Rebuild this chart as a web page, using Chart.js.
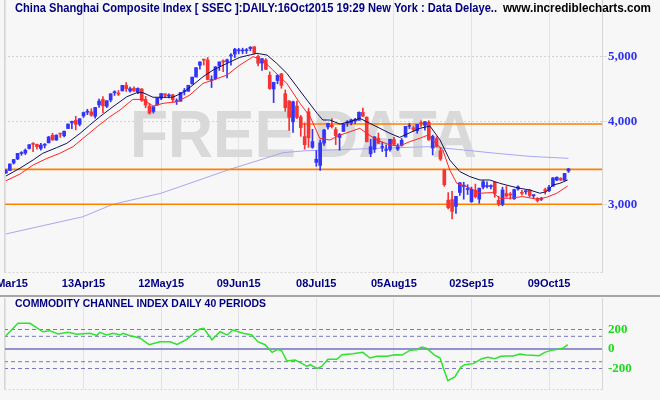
<!DOCTYPE html>
<html><head><meta charset="utf-8">
<script src="https://cdn.jsdelivr.net/npm/chart.js@4"></script>
<style>
html,body{margin:0;padding:0;background:#f7f7f7;}
#wrap{position:relative;width:660px;height:400px;overflow:hidden;background:#f7f7f7;}
#c1{position:absolute;left:0;top:0;}
#c2{position:absolute;left:0;top:298px;}
#sep{position:absolute;left:0;top:295px;width:660px;height:2px;background:#a6a6a6;}
</style></head><body>
<div id="wrap">
<canvas id="c1" width="660" height="296"></canvas>
<div id="sep"></div>
<canvas id="c2" width="660" height="102"></canvas>
</div>
<script>
// ---- data (trading days 13 Mar 2015 .. 16 Oct 2015) ----
const open = [3344,3373,3461,3510,3576,3582,3640,3692,3691,3640,3680,3711,3809,3748,3827,3803,3899,3977,4011,3957,
 4072,4125,4130,4069,4232,4313,4212,4304,4413,4394,4441,4527,4441,4483,4426,4469,4313,4213,4137,4229,
 4330,4398,4366,4381,4279,4286,4432,4436,4552,4660,4854,4942,4943,4603,4633,4845,4928,4909,5012,5045,
 5102,5100,5106,5143,5175,5004,4890,4942,4689,4471,4604,4711,4399,4289,3991,4214,4058,3793,4132,3654,
 3468,3432,3708,3920,3946,3885,3781,3860,3978,3973,4003,4012,4123,4055,3573,3628,3771,3652,3614,3627,
 3754,3630,3678,3786,3928,3909,3871,3976,3943,3986,3645,3767,3609,3373,3043,3049,2978,3125,3190,3157,
 3027,3149,3054,3183,3190,3189,3237,3041,2998,3114,3102,3058,3163,3123,3133,3152,3089,3060,3052,3156,
 3144,3193,3262,3280,3259,3366];
const high = [3383,3449,3503,3578,3600,3632,3688,3715,3694,3706,3702,3795,3835,3817,3835,3864,3961,4000,4069,4034,
 4128,4168,4175,4195,4317,4356,4294,4398,4444,4448,4529,4573,4499,4505,4488,4480,4358,4254,4205,4335,
 4401,4398,4397,4390,4322,4418,4480,4529,4658,4814,4911,4958,4986,4679,4829,4911,4946,4958,5052,5147,
 5147,5150,5144,5178,5176,5029,4968,4967,4744,4577,4691,4720,4456,4297,4287,4286,4080,3975,4184,3889,
 3612,3749,3889,3975,4035,3913,3833,3966,4008,4028,4040,4132,4184,4061,3757,3790,3839,3720,3683,3757,
 3782,3697,3768,3929,3971,3935,3955,4006,3994,4006,3811,3790,3652,3388,3123,3137,3084,3233,3238,3210,
 3183,3217,3174,3256,3243,3210,3238,3085,3182,3193,3125,3161,3199,3148,3145,3157,3101,3071,3073,3172,
 3202,3290,3298,3289,3338,3396];
const low = [3338,3372,3448,3501,3554,3564,3632,3600,3630,3617,3646,3710,3743,3742,3782,3787,3899,3897,3881,3935,
 4052,4091,4068,4040,4195,4121,4192,4277,4373,4370,4441,4432,4422,4432,4398,4282,4189,4099,4113,4229,
 4307,4339,4334,4272,4238,4286,4380,4436,4546,4660,4788,4858,4614,4493,4616,4767,4747,4647,4855,4984,
 5049,5051,5055,5103,5048,4842,4767,4780,4465,4265,4552,4483,4139,3875,3847,4035,3795,3629,3653,3641,
 3421,3373,3677,3889,3906,3688,3616,3860,3929,3948,3967,4012,4063,3723,3537,3589,3702,3601,3538,3605,
 3678,3614,3668,3786,3896,3861,3837,3929,3878,3743,3558,3658,3491,3192,2952,2851,2907,3092,3053,3103,
 3019,3066,3011,3163,3174,3165,3074,2983,2984,3075,3054,3052,3151,3095,3107,3076,3064,3024,3039,3107,
 3134,3193,3256,3257,3259,3349];
const close = [3372,3449,3503,3578,3582,3617,3687,3691,3661,3682,3691,3786,3748,3810,3825,3863,3961,3995,3957,4034,
 4121,4135,4084,4194,4287,4217,4293,4398,4414,4393,4527,4476,4476,4441,4480,4298,4229,4112,4205,4333,
 4401,4375,4378,4308,4283,4418,4446,4529,4658,4813,4910,4941,4620,4611,4828,4910,4910,4947,5023,5131,
 5113,5106,5121,5166,5062,4887,4967,4786,4478,4576,4690,4527,4192,4053,4277,4053,3912,3687,3776,3727,
 3507,3710,3878,3970,3924,3805,3823,3958,3992,4017,4026,4124,4070,3725,3663,3789,3705,3664,3623,3757,
 3695,3661,3744,3928,3928,3887,3955,3965,3993,3749,3794,3664,3508,3210,2965,2927,3084,3232,3206,3166,
 3160,3080,3171,3243,3197,3200,3114,3005,3152,3086,3097,3156,3186,3116,3143,3092,3101,3038,3053,3143,
 3183,3287,3294,3263,3338,3391];

// overlay lines (day index, value)
const navyIdx = [0,3.6,7,9.5,13.1,15.7,19.1,21.6,24.2,27.6,31.2,33.8,35.3,37.9,40.5,43,45.6,48.2,50.8,53.4,57,60.3,64.7,67.3,69.8,72.4,75,77.6,80.2,81.7,83.5,86.1,88.7,91.2,93.8,96.4,99,101.5,104.1,106.7,109.3,111.9,114.4,117,119.6,122.2,124.7,127.3,129.9,132.5,135,137.6,139.4,141,142.8,144.8];
const navyVal = [3308,3398,3497,3579,3650,3705,3834,3946,4062,4205,4354,4415,4415,4345,4345,4345,4415,4533,4665,4774,4886,4989,5058,5028,4886,4720,4507,4303,4110,4016,4016,3960,3992,4040,3970,3902,3834,3781,3843,3902,3933,3747,3497,3359,3301,3263,3263,3226,3196,3170,3152,3117,3134,3207,3226,3263];
const redIdx = [0,3.6,7,10.6,13.9,17.3,20.9,23.5,26.8,29.4,32.7,35.3,37.9,40.5,44.1,47.4,50.8,53.4,57,60.3,63.7,66.2,68.8,72.4,75.8,78.4,80.9,83.5,86.1,88.7,91.2,93,95.6,99,101.5,104.1,106.7,108.8,110,112.6,114.4,116.2,118.8,122.2,125.5,127.3,129.9,133.2,136.9,139.4,142,144.8];
const redVal = [3254,3330,3437,3517,3579,3662,3812,3924,4062,4157,4313,4313,4215,4254,4278,4378,4559,4612,4693,4858,5000,4942,4774,4559,4254,4062,3770,3747,3812,3856,3902,3834,3747,3683,3671,3726,3770,3812,3747,3620,3379,3226,3189,3117,3124,3063,3063,3081,3053,3074,3117,3196];
const lavIdx = [0,19.8,27.6,40,57.7,71.4,77,83.5,109,118,126.5,135,145];
const lavVal = [2707,2873,3000,3117,3385,3586,3610,3620,3662,3620,3578,3541,3517];

// horizontal levels (value, start day index)
const levelVal = [3000,3385,3960];
const levelStart = [-0.5,-0.5,76.3];

// CCI (40 periods)
const cciIdx = [0,3.1,6.2,8.2,9.5,11.3,13.4,16,18.3,21.6,23.5,24.2,26,27.6,29.4,30.2,32,34.5,36.9,39.7,42.3,44.1,46.6,49.2,50,51,53.1,55.2,57,58.5,61.1,63.4,64.9,66.8,68.6,70.1,71.1,72.4,74.5,75.8,77.6,78.4,80.2,81.4,83,85.3,86.6,89.4,92,93.8,95.6,98.2,100.3,102.1,104.1,105.9,107.2,108.5,110.3,111.9,112.9,113.9,115.7,117.3,118.3,120.4,122.7,124.2,126,127.6,129.1,130.7,132.5,134,135.6,137.4,138.9,140.5,142.8,143.8,144.8];
const cciVal = [136,264,264,212,177,188,154,171,151,161,140,171,144,161,144,161,136,113,44,75,75,48,99,185,205,212,95,177,144,195,161,144,75,44,-34,-3,-20,-123,-113,-137,-178,-161,-198,-178,-106,-106,-58,-48,-34,-92,-75,-75,-58,-62,-14,-7,21,7,-58,-92,-212,-325,-287,-185,-161,-150,-99,-85,-99,-75,-72,-72,-51,-62,-65,-68,-34,-14,0,14,44];
const cciDashLevels = [200,130,-130,-200];
const cciTicks = [200,0,-200];

// axis ticks
const tickIdx = [0,20,40,60,80,100,120,140];
const tickLabels = ['13Mar15','13Apr15','12May15','09Jun15','08Jul15','05Aug15','02Sep15','09Oct15'];
const priceTicks = [3000,4000,5000];

const titleText = 'China Shanghai Composite Index [ SSEC ]:DAILY:16Oct2015 19:29 New York : Data Delaye..';
const siteText = 'www.incrediblecharts.com';
const cciTitle = 'COMMODITY CHANNEL INDEX DAILY 40 PERIODS';
const watermark = 'FREE DATA';

// ---- drawing ----
const X_MIN = -0.5, X_MAX = 153.9;
const UP = '#3434f6', DN = '#f63434';
const pairs = (xs, ys) => xs.map((x, k) => ({x, y: ys[k]}));
const days = open.map((_, i) => i);
const candleColor = c => (close[c.dataIndex] >= open[c.dataIndex] ? UP : DN);
const fmt = v => String(v).replace(/\B(?=(\d{3})+(?!\d))/g, ',');
const SANS = '"Liberation Sans", Arial, sans-serif';
const SERIF = '"Liberation Serif", "DejaVu Serif", serif';

const xScale = (h) => ({
  type: 'linear', min: X_MIN, max: X_MAX, offset: false,
  grid: {color: '#e3e3e3', drawTicks: false, offset: false},
  border: {display: false},
  ticks: {display: false},
  afterBuildTicks: s => { s.ticks = tickIdx.map(v => ({value: v})); },
  afterFit: s => { s.height = h; s.paddingLeft = 0; s.paddingRight = 0; }
});

function frame(ctx, a) {
  ctx.save();
  ctx.strokeStyle = '#d6d6d6'; ctx.lineWidth = 1;
  const r = Math.round(a.right) - 0.5, l = Math.round(a.left) + 0.5, b = Math.round(a.bottom) + 0.5;
  ctx.beginPath(); ctx.moveTo(r, a.top); ctx.lineTo(r, b); ctx.stroke();
  ctx.beginPath(); ctx.moveTo(l, a.top); ctx.lineTo(l, b); ctx.stroke();
  ctx.setLineDash([2, 2]);
  ctx.beginPath(); ctx.moveTo(l, b); ctx.lineTo(r, b); ctx.stroke();
  ctx.restore();
}

function yLabels(chart, values, color, fmtFn) {
  const {ctx, chartArea: a, scales} = chart;
  ctx.save();
  ctx.font = 'bold 13px ' + SERIF;
  ctx.fillStyle = color;
  ctx.textAlign = 'left'; ctx.textBaseline = 'middle';
  values.forEach(v => ctx.fillText(fmtFn(v), a.right + 5, scales.y.getPixelForValue(v)));
  ctx.restore();
}

const mainDecor = {
  id: 'mainDecor',
  beforeDatasetsDraw(chart) {
    const ctx = chart.ctx;
    ctx.save();
    ctx.font = 'bold 66px ' + SANS;
    ctx.fillStyle = '#d9d9d9';
    ctx.textAlign = 'center'; ctx.textBaseline = 'alphabetic';
    ctx.fillText(watermark, 303.5, 157, 347);
    ctx.restore();
  },
  afterDraw(chart) {
    const {ctx, chartArea: a, scales} = chart;
    frame(ctx, a);
    yLabels(chart, priceTicks, '#3030f0', fmt);
    ctx.save();
    ctx.font = 'bold 11px ' + SANS;
    ctx.fillStyle = '#000080';
    ctx.textAlign = 'center'; ctx.textBaseline = 'middle';
    tickIdx.forEach((v, k) => ctx.fillText(tickLabels[k], scales.x.getPixelForValue(v), 284));
    ctx.textAlign = 'left';
    ctx.font = 'bold 12px ' + SANS;
    ctx.fillStyle = '#000080';
    ctx.fillText(titleText, 15, 9, 482);
    ctx.fillStyle = '#000000';
    ctx.fillText(siteText, 503, 9, 148);
    ctx.restore();
  }
};

const cciDecor = {
  id: 'cciDecor',
  afterDraw(chart) {
    const {ctx, chartArea: a} = chart;
    frame(ctx, a);
    yLabels(chart, cciTicks, '#1ed81e', v => String(v));
    ctx.save();
    ctx.font = 'bold 11px ' + SANS;
    ctx.fillStyle = '#000080';
    ctx.textAlign = 'left'; ctx.textBaseline = 'middle';
    ctx.fillText(cciTitle, 15, 6, 251);
    ctx.restore();
  }
};

const lineDs = (data, color, width, order, extra) => Object.assign({
  type: 'line', data, borderColor: color, borderWidth: width, pointRadius: 0,
  tension: 0, fill: false, order
}, extra || {});

const mainDatasets = [
  lineDs(pairs(lavIdx, lavVal), '#a6a6f4', 1, 7),
  ...levelVal.map((v, k) => lineDs([{x: levelStart[k], y: v}, {x: X_MAX, y: v}], '#ff8000', 1.6, 6)),
  {type: 'bar', data: days.map(i => ({x: i, y: [low[i], high[i]]})), backgroundColor: candleColor,
   grouped: false, barThickness: 1, maxBarThickness: 1, borderWidth: 0, order: 5},
  {type: 'bar', data: days.map(i => ({x: i, y: [open[i], close[i]]})), backgroundColor: candleColor,
   grouped: false, barThickness: 3, maxBarThickness: 3, minBarLength: 1, borderWidth: 0, order: 4},
  lineDs(pairs(redIdx, redVal), '#ff2424', 1, 2),
  lineDs(pairs(navyIdx, navyVal), '#101058', 1, 1)
];

new Chart(document.getElementById('c1'), {
  type: 'bar',
  data: {datasets: mainDatasets},
  options: {
    responsive: false, animation: false, events: [],
    layout: {padding: {left: 4, right: 0, top: 0, bottom: 0}},
    plugins: {legend: {display: false}, tooltip: {enabled: false}},
    scales: {
      x: xScale(24),
      y: {
        type: 'logarithmic', position: 'right', min: 2373, max: 6084, beginAtZero: false,
        grid: {color: '#d2d2d2', tickLength: 4, tickColor: '#dddddd', drawTicks: true},
        border: {display: false, dash: [2, 2]},
        ticks: {display: false},
        afterBuildTicks: s => { s.ticks = priceTicks.map(v => ({value: v})); },
        afterFit: s => { s.width = 57; s.paddingTop = 0; s.paddingBottom = 0; }
      }
    }
  },
  plugins: [mainDecor]
});

new Chart(document.getElementById('c2'), {
  type: 'line',
  data: {datasets: [
    ...cciDashLevels.map(v => lineDs([{x: X_MIN, y: v}, {x: X_MAX, y: v}], '#7676c6', 1, 3, {borderDash: [4, 3]})),
    lineDs([{x: X_MIN, y: 0}, {x: X_MAX, y: 0}], '#7070c0', 1.5, 2),
    lineDs(pairs(cciIdx, cciVal), '#2ee22e', 1.5, 1)
  ]},
  options: {
    responsive: false, animation: false, events: [],
    layout: {padding: {left: 4, right: 0, top: 0, bottom: 0}},
    plugins: {legend: {display: false}, tooltip: {enabled: false}},
    scales: {
      x: xScale(11),
      y: {
        type: 'linear', position: 'right', min: -410, max: 523,
        grid: {display: false, drawTicks: false},
        border: {display: false},
        ticks: {display: false},
        afterBuildTicks: s => { s.ticks = cciTicks.map(v => ({value: v})); },
        afterFit: s => { s.width = 57; s.paddingTop = 0; s.paddingBottom = 0; }
      }
    }
  },
  plugins: [cciDecor]
});
</script>
</body></html>
